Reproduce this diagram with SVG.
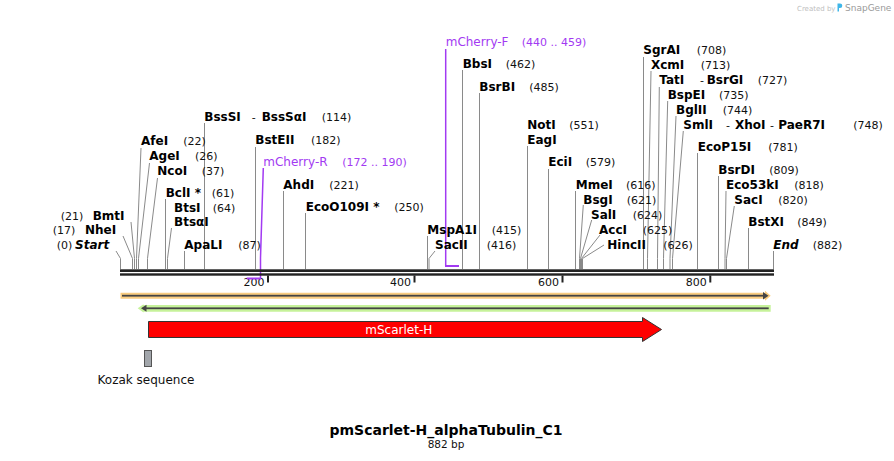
<svg xmlns="http://www.w3.org/2000/svg" width="894" height="461" viewBox="0 0 894 461">
<style>
text{font-family:"DejaVu Sans","Liberation Sans",sans-serif}
.n{font-size:12px;font-weight:bold;fill:#000}
.i{font-size:12px;font-weight:bold;font-style:italic;fill:#000}
.p{font-size:11px;fill:#111}
.d{font-size:11px;fill:#111}
.pr{font-size:12px;fill:#a23af2}
.prn{font-size:11px;fill:#a23af2}
.ld{stroke:#8a8a8a;stroke-width:1;fill:none}
.pl{stroke:#a23af2;stroke-width:1.5;fill:none}
.bb{fill:#222}
.tk{fill:#222}
.sc{font-size:11px;fill:#111}
</style>
<rect width="894" height="461" fill="#fff"/>

<g id="watermark">
<text x="797" y="11" style="font-size:7px;fill:#c0c0c0">Created by</text>
<path d="M837.5 3.5 h2.5 a2.3 2.3 0 0 1 0 4.6 h-1 v3.4 h-1.5 z" fill="#3fb6e8"/>
<text x="845" y="11" style="font-size:9px;fill:#9a9a9a">SnapGene</text>
</g>

<g id="connectors">
<!-- left group -->
<polyline class="ld" points="116,251 120.5,258.5 120.5,269"/>
<polyline class="ld" points="123,236 132.5,258.5 132.5,269"/>
<polyline class="ld" points="131,222 134.5,258.5 134.5,269"/>
<polyline class="ld" points="141,148 136.5,258.5 136.5,269"/>
<polyline class="ld" points="149.5,163 138.5,258.5 138.5,269"/>
<polyline class="ld" points="157.5,178 147.5,258.5 147.5,269"/>
<polyline class="ld" points="165.5,199 165.5,269"/>
<polyline class="ld" points="171.5,228 167.5,258.5 167.5,269"/>
<polyline class="ld" points="184.5,251 184.5,269"/>
<polyline class="ld" points="204.5,123 204.5,269"/>
<polyline class="ld" points="255.5,147 255.5,269"/>
<polyline class="ld" points="283.5,191 283.5,269"/>
<polyline class="ld" points="305.5,213 305.5,269"/>
<!-- middle -->
<polyline class="ld" points="427.5,236 427.5,269"/>
<polyline class="ld" points="435,251 429,258.5 429,269"/>
<polyline class="ld" points="462.5,70 462.5,269"/>
<polyline class="ld" points="479.5,93 479.5,269"/>
<polyline class="ld" points="527.5,146 527.5,269"/>
<polyline class="ld" points="548.5,169 548.5,269"/>
<polyline class="ld" points="575.5,191 575.5,269"/>
<polyline class="ld" points="583.3,205 579.5,258.5 579.5,269"/>
<polyline class="ld" points="591.7,220 580.5,258.5 580.5,269"/>
<polyline class="ld" points="600,235 581.5,258.5 581.5,269"/>
<polyline class="ld" points="604,245 582.5,258.5 582.5,269"/>
<!-- right -->
<polyline class="ld" points="643.5,57 643.5,269"/>
<polyline class="ld" points="651,71 647.5,258.5 647.5,269"/>
<polyline class="ld" points="659.3,87 657.5,258.5 657.5,269"/>
<polyline class="ld" points="667.7,101 663.5,258.5 663.5,269"/>
<polyline class="ld" points="676,116 670,258.5 670,269"/>
<polyline class="ld" points="683.3,131 672.5,258.5 672.5,269"/>
<polyline class="ld" points="697.5,153 697.5,269"/>
<polyline class="ld" points="718.5,176 718.5,269"/>
<polyline class="ld" points="726,191 725,258.5 725,269"/>
<polyline class="ld" points="734.3,206 726.5,258.5 726.5,269"/>
<polyline class="ld" points="748.5,228 748.5,269"/>
<polyline class="ld" points="773.5,251 773.5,269"/>
<!-- primers -->
<polyline class="pl" points="445.7,49 445.7,266"/>
<polyline class="pl" points="263.3,168 260.5,258 260.5,279"/>
</g>

<g id="backbone">
<rect class="bb" x="120" y="269.3" width="654" height="2.7"/>
<rect class="bb" x="120" y="273.3" width="654" height="2.4"/>
<rect class="tk" x="267" y="275.5" width="2" height="7"/>
<rect class="tk" x="413.5" y="275.5" width="2" height="7"/>
<rect class="tk" x="561.5" y="275.5" width="2" height="7"/>
<rect class="tk" x="709.3" y="275.5" width="2" height="7"/>
<text class="sc" x="264.5" y="285.5" text-anchor="end">200</text>
<text class="sc" x="411" y="285.5" text-anchor="end">400</text>
<text class="sc" x="559" y="285.5" text-anchor="end">600</text>
<text class="sc" x="706.7" y="285.5" text-anchor="end">800</text>
</g>

<g id="primer-mCherry-F">
<rect x="445" y="265" width="14" height="2" fill="#a23af2"/>
<text class="pr" x="445.7" y="46">mCherry-F</text>
<text class="prn" x="521.7" y="46">(440 .. 459)</text>
</g>
<g id="primer-mCherry-R">
<rect x="246.7" y="277.5" width="14.5" height="2" fill="#a23af2"/>
<text class="pr" x="263.3" y="166">mCherry-R</text>
<text class="prn" x="342.3" y="166">(172 .. 190)</text>
</g>

<g id="site-Start"><text class="p" x="56.7" y="249">(0)</text><text class="i" x="75" y="249">Start</text></g>
<g id="site-NheI"><text class="p" x="52.7" y="234">(17)</text><text class="n" x="85" y="234">NheI</text></g>
<g id="site-BmtI"><text class="p" x="60.7" y="219.5">(21)</text><text class="n" x="92.7" y="219.5">BmtI</text></g>
<g id="site-AfeI"><text class="n" x="141" y="145">AfeI</text><text class="p" x="183.3" y="145">(22)</text></g>
<g id="site-AgeI"><text class="n" x="149.3" y="160">AgeI</text><text class="p" x="195" y="160">(26)</text></g>
<g id="site-NcoI"><text class="n" x="157.3" y="175">NcoI</text><text class="p" x="201.7" y="175">(37)</text></g>
<g id="site-BclI"><text class="n" x="165.7" y="196.5">BclI *</text><text class="p" x="211.7" y="196.5">(61)</text></g>
<g id="site-BtsI"><text class="n" x="174" y="211.5">BtsI</text><text class="p" x="212.7" y="211.5">(64)</text><text class="n" x="174" y="226">BtsαI</text></g>
<g id="site-ApaLI"><text class="n" x="184.3" y="249">ApaLI</text><text class="p" x="238.3" y="249">(87)</text></g>
<g id="site-BssSI"><text class="n" x="204.3" y="120.5">BssSI</text><text class="d" x="251.7" y="120.5">-</text><text class="n" x="261.7" y="120.5">BssSαI</text><text class="p" x="321.7" y="120.5">(114)</text></g>
<g id="site-BstEII"><text class="n" x="255.3" y="144">BstEII</text><text class="p" x="311" y="144">(182)</text></g>
<g id="site-AhdI"><text class="n" x="283.3" y="189">AhdI</text><text class="p" x="329.3" y="189">(221)</text></g>
<g id="site-EcoO109I"><text class="n" x="305.7" y="211">EcoO109I *</text><text class="p" x="394.3" y="211">(250)</text></g>
<g id="site-MspA1I"><text class="n" x="427.3" y="234">MspA1I</text><text class="p" x="491.7" y="234">(415)</text></g>
<g id="site-SacII"><text class="n" x="435" y="248.5">SacII</text><text class="p" x="486.7" y="248.5">(416)</text></g>
<g id="site-BbsI"><text class="n" x="462.7" y="68">BbsI</text><text class="p" x="505.7" y="68">(462)</text></g>
<g id="site-BsrBI"><text class="n" x="479.3" y="91">BsrBI</text><text class="p" x="529.3" y="91">(485)</text></g>
<g id="site-NotI"><text class="n" x="527.3" y="129">NotI</text><text class="p" x="569.3" y="129">(551)</text><text class="n" x="527.3" y="143.5">EagI</text></g>
<g id="site-EciI"><text class="n" x="548.3" y="166">EciI</text><text class="p" x="585.7" y="166">(579)</text></g>
<g id="site-MmeI"><text class="n" x="575.7" y="188.5">MmeI</text><text class="p" x="626" y="188.5">(616)</text></g>
<g id="site-BsgI"><text class="n" x="583.3" y="203.5">BsgI</text><text class="p" x="626.7" y="203.5">(621)</text></g>
<g id="site-SalI"><text class="n" x="591" y="218.5">SalI</text><text class="p" x="632.7" y="218.5">(624)</text></g>
<g id="site-AccI"><text class="n" x="599" y="233.5">AccI</text><text class="p" x="642.7" y="233.5">(625)</text></g>
<g id="site-HincII"><text class="n" x="607.3" y="248.5">HincII</text><text class="p" x="663.3" y="248.5">(626)</text></g>
<g id="site-SgrAI"><text class="n" x="643.3" y="54">SgrAI</text><text class="p" x="696.7" y="54">(708)</text></g>
<g id="site-XcmI"><text class="n" x="651" y="68.5">XcmI</text><text class="p" x="700.7" y="68.5">(713)</text></g>
<g id="site-TatI"><text class="n" x="659.3" y="84">TatI</text><text class="d" x="700" y="84">-</text><text class="n" x="706.7" y="84">BsrGI</text><text class="p" x="757.7" y="84">(727)</text></g>
<g id="site-BspEI"><text class="n" x="667.7" y="98.5">BspEI</text><text class="p" x="719" y="98.5">(735)</text></g>
<g id="site-BglII"><text class="n" x="676" y="113.5">BglII</text><text class="p" x="722.7" y="113.5">(744)</text></g>
<g id="site-SmlI"><text class="n" x="683.3" y="129">SmlI</text><text class="d" x="726" y="129">-</text><text class="n" x="735" y="129">XhoI</text><text class="d" x="770" y="129">-</text><text class="n" x="778.3" y="129">PaeR7I</text><text class="p" x="853.3" y="129">(748)</text></g>
<g id="site-EcoP15I"><text class="n" x="697.7" y="150.5">EcoP15I</text><text class="p" x="768.3" y="150.5">(781)</text></g>
<g id="site-BsrDI"><text class="n" x="718.3" y="173.5">BsrDI</text><text class="p" x="769.3" y="173.5">(809)</text></g>
<g id="site-Eco53kI"><text class="n" x="726" y="188.5">Eco53kI</text><text class="p" x="794.3" y="188.5">(818)</text></g>
<g id="site-SacI"><text class="n" x="734.3" y="203.5">SacI</text><text class="p" x="778.3" y="203.5">(820)</text></g>
<g id="site-BstXI"><text class="n" x="748.3" y="225.5">BstXI</text><text class="p" x="797.3" y="225.5">(849)</text></g>
<g id="site-End"><text class="i" x="773.3" y="248.5">End</text><text class="p" x="812.7" y="248.5">(882)</text></g>

<g id="feature-orange">
<polygon points="120.5,292.7 765,292.7 765,290.7 770.7,295.7 765,300.7 765,298.7 120.5,298.7" fill="#f9cc80"/>
<rect x="122" y="294.8" width="642" height="1.8" fill="#444"/>
<polygon points="763,292 768.5,295.7 763,299.4" fill="#444"/>
</g>
<g id="feature-green">
<polygon points="137.7,308.3 143.5,304.3 143.5,305 770.7,305 770.7,311.7 143.5,311.7 143.5,312.5" fill="#c6f29a"/>
<rect x="145" y="307.4" width="623.7" height="1.8" fill="#444"/>
<polygon points="141,308.3 146.5,304.8 146.5,311.8" fill="#444"/>
</g>

<g id="feature-mScarlet-H">
<polygon points="148.5,321.5 642.5,321.5 642.5,317.5 661.5,329.5 642.5,341.5 642.5,337.5 148.5,337.5" fill="#ff0000" stroke="#333" stroke-width="1"/>
<text x="398.8" y="334" text-anchor="middle" style="font-size:12px;fill:#fff">mScarlet-H</text>
</g>

<g id="feature-Kozak">
<rect x="144.5" y="350.5" width="7" height="16" fill="#a2a6ab" stroke="#555" stroke-width="1"/>
<text x="146" y="384" text-anchor="middle" style="font-size:12px;fill:#111">Kozak sequence</text>
</g>

<g id="title">
<text x="446" y="435" text-anchor="middle" style="font-size:14px;font-weight:bold;fill:#000">pmScarlet-H_alphaTubulin_C1</text>
<text x="446" y="448" text-anchor="middle" style="font-size:10.5px;fill:#111">882 bp</text>
</g>
</svg>
